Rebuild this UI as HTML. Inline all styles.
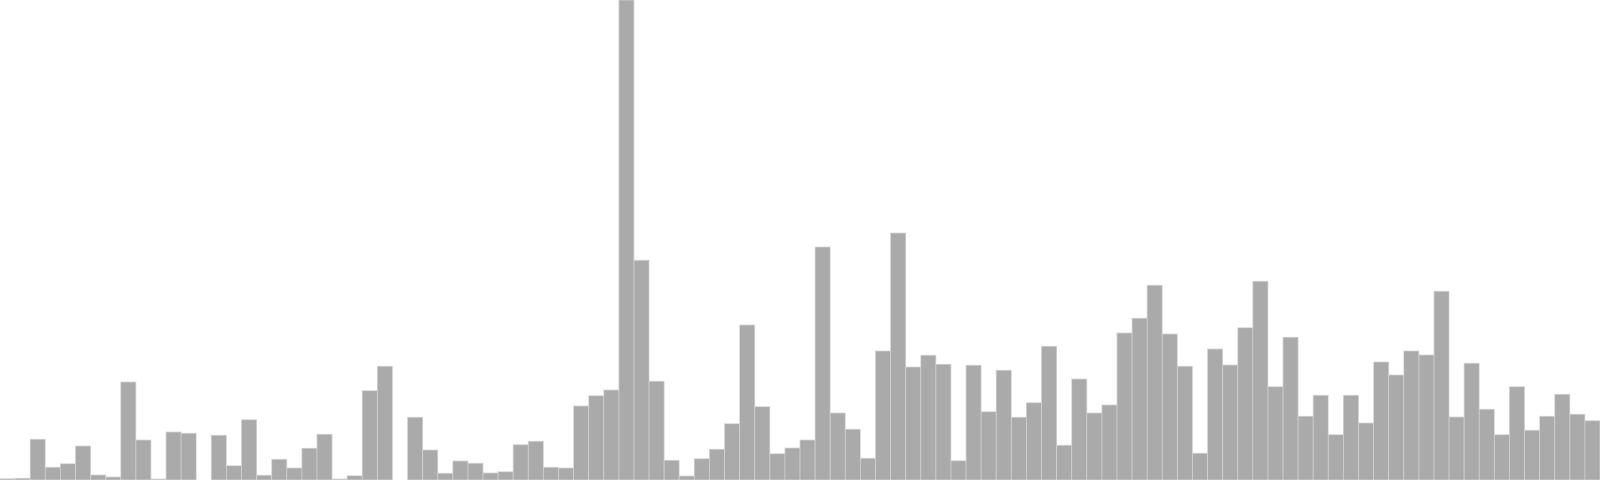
<!DOCTYPE html>
<html><head><meta charset="utf-8"><style>html,body{margin:0;padding:0;background:#fff;width:1600px;height:480px;overflow:hidden}</style></head>
<body>
<svg id="chart" width="1600" height="480" xmlns="http://www.w3.org/2000/svg"></svg>
<script>
const values = [1.3,1.7,40.7,12.7,16.3,34,5,3,98,40,1,48,46.7,0,44.7,14.3,60.3,4.7,20.7,12,31.7,45.7,1,4.3,89.3,113.7,0,
62.7,30,6.7,19,16.7,7,8.3,35.3,38.7,12.7,12,74,84.3,90,480,219.7,98.7,19.7,4,21.3,30.7,56.3,155,73.3,26.3,32,
40,233,67,50.7,21.7,129,247,113,124.7,115.7,19.3,114.7,68.3,109.7,62.7,77.3,133.7,34.7,101,67,75,147,161.7,194.7,146,113.7,26.7,
131,115,152.3,198.7,93.3,142.7,63.7,84.7,45.3,84.7,57,118,105,129,125,188.7,63,116.7,70.7,45.3,93.3,49.7,63.7,85.7,65.7,59.3];
const categories = values.map((v,i)=>'bin-'+i);
const maxValue = 480;
const W = 1600, H = 480;
const svg = document.getElementById('chart');
const NS = 'http://www.w3.org/2000/svg';
const bw = W / categories.length;
function xScale(i){ return i * bw; }
function yScale(v){ return H - v / maxValue * H; }
values.forEach((v,i)=>{
  if (v <= 0) return;
  const r = document.createElementNS(NS,'rect');
  r.setAttribute('x', xScale(i));
  r.setAttribute('y', yScale(v));
  r.setAttribute('width', bw);
  r.setAttribute('height', H - yScale(v));
  r.setAttribute('fill', '#aaaaaa');
  r.setAttribute('stroke', '#d4d4d4');
  r.setAttribute('stroke-width', '0.8');
  
  
  svg.appendChild(r);
});
</script>
</body></html>
